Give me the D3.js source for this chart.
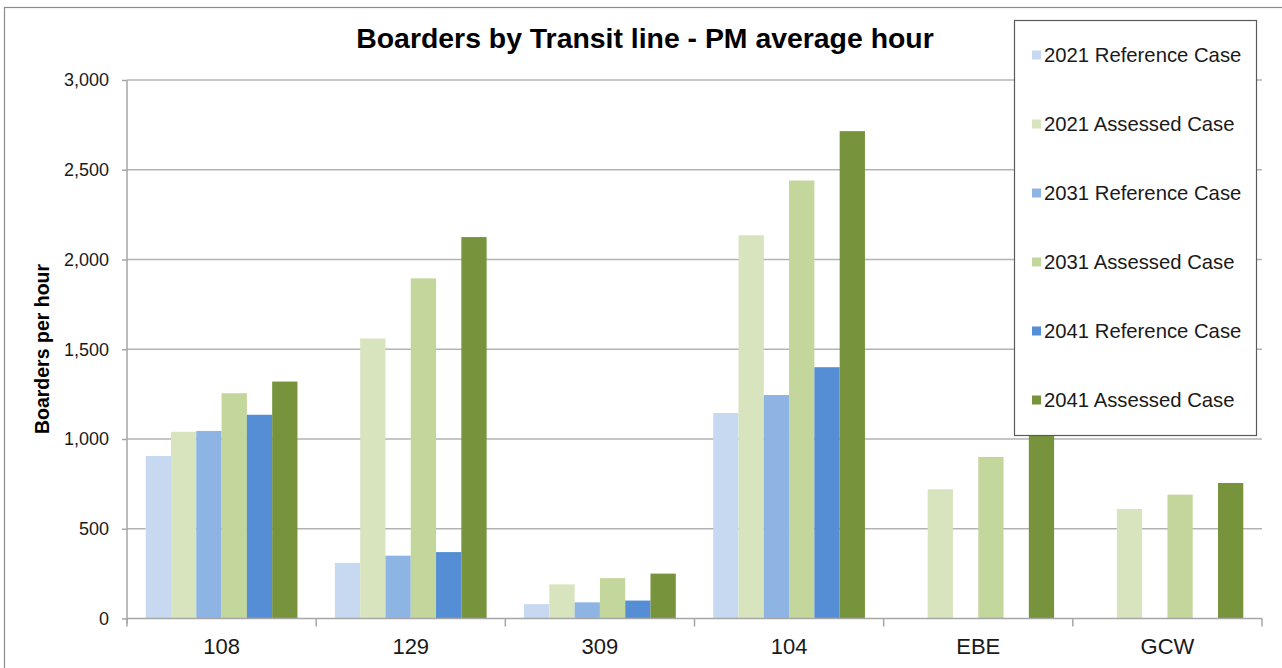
<!DOCTYPE html>
<html>
<head>
<meta charset="utf-8">
<script src="https://cdn.jsdelivr.net/npm/d3@7"></script>
<style>
  html, body { margin: 0; padding: 0; background: #fff; }
  svg { display: block; font-family: "Liberation Sans", Arial, sans-serif; }
</style>
</head>
<body>
<svg id="chart" width="1282" height="668"></svg>
<script>
// Transit lines shown along the x axis
const lines = ["108", "129", "309", "104", "EBE", "GCW"];

// Scenario series (null = not modelled for that line)
const seriesNames = [
  "2021 Reference Case", "2021 Assessed Case",
  "2031 Reference Case", "2031 Assessed Case",
  "2041 Reference Case", "2041 Assessed Case"
];
const ref2021 = [905, 310, 80, 1145, null, null];
const ass2021 = [1040, 1560, 190, 2135, 720, 610];
const ref2031 = [1045, 350, 90, 1245, null, null];
const ass2031 = [1255, 1895, 225, 2440, 900, 690];
const ref2041 = [1135, 370, 100, 1400, null, null];
const ass2041 = [1320, 2125, 250, 2715, 1060, 755];

const yTicks = [0, 500, 1000, 1500, 2000, 2500, 3000];
const seriesColors = ["#c6d9f1", "#d7e4bd", "#8eb4e3", "#c3d69b", "#558ed5", "#77933c"];

const seriesValues = [ref2021, ass2021, ref2031, ass2031, ref2041, ass2041];
const data = lines.map((line, i) => ({
  line,
  values: seriesNames.map((name, s) => ({ name, value: seriesValues[s][i] }))
}));

const svg = d3.select("#chart");

// Outer chart frame (only its top and left edges fall inside the view)
svg.append("rect")
  .attr("x", 4.5).attr("y", 7.5)
  .attr("width", 1400).attr("height", 800)
  .attr("fill", "none").attr("stroke", "#8c8c8c").attr("stroke-width", 1.2);

const plot = { left: 127, right: 1262, top: 80, bottom: 618.5 };

const x0 = d3.scaleBand().domain(lines).range([plot.left, plot.right]).padding(0);
const x1 = d3.scaleBand().domain(seriesNames).range([0, x0.bandwidth()])
  .paddingInner(0).paddingOuter(0.74);
const y = d3.scaleLinear().domain([0, 3000]).range([plot.bottom, plot.top]);
const color = d3.scaleOrdinal().domain(seriesNames).range(seriesColors);

// Horizontal gridlines
svg.append("g")
  .selectAll("line")
  .data(yTicks.filter(d => d > 0))
  .join("line")
  .attr("x1", plot.left).attr("x2", plot.right)
  .attr("y1", d => y(d)).attr("y2", d => y(d))
  .attr("stroke", "#b3b3b3").attr("stroke-width", 1.5);

// Y axis
const yAxis = d3.axisLeft(y).tickValues(yTicks).tickSize(5).tickPadding(13)
  .tickFormat(d3.format(","));
const gy = svg.append("g").attr("transform", `translate(${plot.left},0)`).call(yAxis);
gy.select(".domain").attr("stroke", "#a6a6a6").attr("stroke-width", 1.5)
  .attr("d", `M0,${plot.bottom + 5}V${plot.top}`);
gy.selectAll(".tick line").attr("stroke", "#a6a6a6").attr("stroke-width", 1.5);
gy.selectAll(".tick text").attr("fill", "#1a1a1a").attr("font-size", 18)
  .attr("font-family", "Liberation Sans, Arial, sans-serif");

// Bars
const groups = svg.append("g")
  .selectAll("g")
  .data(data)
  .join("g")
  .attr("transform", d => `translate(${x0(d.line)},0)`);

groups.selectAll("rect")
  .data(d => d.values.filter(v => v.value != null))
  .join("rect")
  .attr("x", d => x1(d.name))
  .attr("width", x1.bandwidth())
  .attr("y", d => y(d.value))
  .attr("height", d => y(0) - y(d.value))
  .attr("fill", d => color(d.name));

// X axis with ticks between categories
const xAxisG = svg.append("g").attr("transform", `translate(0,${plot.bottom})`);
xAxisG.append("line")
  .attr("x1", plot.left).attr("x2", plot.right)
  .attr("stroke", "#a6a6a6").attr("stroke-width", 1.5);
const boundaries = lines.map(l => x0(l)).concat([x0(lines[lines.length - 1]) + x0.bandwidth()]);
xAxisG.selectAll("line.sep")
  .data(boundaries)
  .join("line")
  .attr("class", "sep")
  .attr("x1", d => d).attr("x2", d => d)
  .attr("y1", 0).attr("y2", 8)
  .attr("stroke", "#a6a6a6").attr("stroke-width", 1.5);
xAxisG.selectAll("text")
  .data(lines)
  .join("text")
  .attr("x", d => x0(d) + x0.bandwidth() / 2)
  .attr("y", 35)
  .attr("text-anchor", "middle")
  .attr("font-size", 22)
  .attr("fill", "#1a1a1a")
  .text(d => d);

// Title
svg.append("text")
  .attr("x", 645).attr("y", 48)
  .attr("text-anchor", "middle")
  .attr("font-size", 28.4).attr("font-weight", "bold")
  .attr("fill", "#000")
  .text("Boarders by Transit line - PM average hour");

// Y axis title
svg.append("text")
  .attr("transform", "translate(49,349) rotate(-90)")
  .attr("text-anchor", "middle")
  .attr("font-size", 19.5).attr("font-weight", "bold")
  .attr("fill", "#000")
  .text("Boarders per hour");

// Legend
const legend = svg.append("g");
legend.append("rect")
  .attr("x", 1014.5).attr("y", 20.5)
  .attr("width", 242).attr("height", 415)
  .attr("fill", "#fff").attr("stroke", "#595959").attr("stroke-width", 1.2);
const items = legend.selectAll("g.item")
  .data(seriesNames)
  .join("g")
  .attr("class", "item")
  .attr("transform", (d, i) => `translate(1032,${55 + i * 69})`);
items.append("rect")
  .attr("x", 0).attr("y", -4.5).attr("width", 9).attr("height", 9)
  .attr("fill", d => color(d));
items.append("text")
  .attr("x", 12).attr("y", 7)
  .attr("font-size", 20.3)
  .attr("fill", "#1a1a1a")
  .text(d => d);
</script>
</body>
</html>
